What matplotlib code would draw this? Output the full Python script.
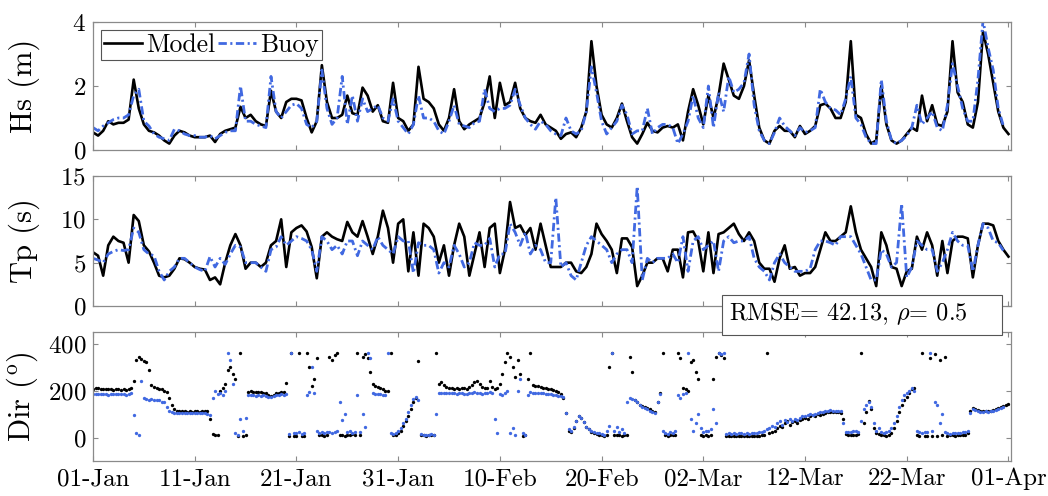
import matplotlib
matplotlib.use('Agg')
import matplotlib.pyplot as plt
import matplotlib.dates as mdates
from matplotlib.patches import Rectangle
import numpy as np

plt.rcParams.update({
    'font.family': 'serif', 'font.serif': ['cmr10'], 'mathtext.fontset': 'cm',
    'axes.unicode_minus': False, 'axes.formatter.use_mathtext': True,
    'font.size': 18, 'lines.scale_dashes': False,
})

nan = np.nan
start = np.datetime64('2023-01-01T00:00')

# ---------------- data (12-hourly) ----------------
hs_model = [
    0.55, 0.45, 0.6, 0.9, 0.8, 0.85, 0.85, 0.95, 2.2, 1.3,
    0.8, 0.6, 0.55, 0.45, 0.3, 0.2, 0.45, 0.6, 0.55, 0.45,
    0.4, 0.4, 0.4, 0.45, 0.25, 0.5, 0.6, 0.65, 0.7, 1.35,
    1.0, 1.1, 0.9, 0.8, 0.75, 1.85, 1.2, 1.0, 1.5, 1.6,
    1.6, 1.55, 1.0, 0.55, 0.9, 2.65, 1.5, 1.0, 1.0, 1.1,
    1.7, 1.15, 1.1, 1.95, 1.7, 1.2, 1.4, 0.9, 0.85, 2.1,
    1.0, 0.9, 0.6, 0.8, 2.6, 1.6, 1.5, 1.3, 0.8, 0.6,
    1.0, 1.9, 0.9, 0.65, 0.8, 0.9, 1.0, 1.5, 2.3, 1.0,
    2.1, 1.4, 1.5, 2.1, 1.3, 1.0, 0.9, 0.85, 1.1, 0.8,
    0.7, 0.6, 0.35, 0.5, 0.55, 0.4, 0.7, 1.2, 3.4, 2.0,
    1.1, 0.8, 0.7, 1.0, 1.45, 0.9, 0.4, 0.2, 0.5, 0.85,
    0.6, 0.55, 0.7, 0.75, 0.7, 0.8, 0.3, 1.2, 1.9, 1.4,
    0.8, 1.7, 1.0, 1.7, 2.7, 2.2, 1.7, 1.6, 2.0, 2.8,
    1.7, 0.7, 0.3, 0.2, 0.6, 0.75, 0.6, 0.6, 0.4, 0.75,
    0.5, 0.6, 0.75, 1.4, 1.45, 1.3, 1.0, 1.0, 1.5, 3.4,
    1.1, 1.0, 0.5, 0.2, 0.3, 2.0, 0.8, 0.3, 0.2, 0.3,
    0.5, 0.7, 0.6, 1.7, 0.9, 1.4, 0.8, 0.75, 1.2, 3.4,
    1.8, 1.5, 0.8, 0.7, 1.5, 3.7, 3.0, 2.1, 1.2, 0.7,
    0.5]
hs_buoy = [
    0.7, 0.6, 0.75, 0.85, 0.95, 1.0, 1.0, 1.1, 1.7, 1.9,
    0.9, 0.75, 0.5, 0.4, 0.35, 0.3, 0.65, 0.6, 0.5, 0.45,
    0.45, 0.4, 0.4, 0.45, 0.35, 0.45, 0.55, 0.6, 0.6, 2.0,
    0.9, 0.9, 0.8, 0.75, 0.7, 2.3, 1.2, 1.0, 1.2, 1.4,
    1.45, 1.3, 0.8, 0.7, 0.9, 2.5, 1.3, 0.8, 1.0, 2.3,
    0.8, 1.7, 0.9, 1.6, 1.2, 1.3, 1.4, 1.0, 0.9, 1.6,
    0.9, 0.7, 0.5, 0.8, 1.7, 1.0, 1.0, 0.9, 0.6, 0.5,
    0.9, 1.4, 0.8, 0.75, 0.7, 0.85, 0.9, 1.9, 1.3, 1.2,
    1.3, 1.3, 1.4, 1.9, 1.4, 1.0, 0.8, 0.65, 0.9, 0.8,
    0.6, 0.5, 0.45, 1.0, 0.6, 0.5, 0.6, 1.2, 2.6, 1.8,
    0.9, 0.5, 0.7, 0.9, 1.4, 1.1, 0.5, 0.6, 0.6, 1.3,
    0.5, 0.7, 0.8, 0.8, 0.7, 0.2, 0.5, 0.9, 1.7, 1.0,
    0.7, 2.0, 0.7, 1.8, 1.2, 2.3, 1.8, 1.9, 2.1, 3.0,
    1.4, 0.6, 0.3, 0.2, 0.55, 1.0, 0.75, 0.6, 0.45, 0.7,
    0.55, 0.6, 0.7, 1.9, 1.5, 1.3, 1.25, 1.1, 1.6, 2.3,
    1.0, 0.8, 0.4, 0.2, 0.2, 2.2, 0.9, 0.3, 0.2, 0.3,
    0.45, 0.7, 1.4, 0.8, 1.0, 1.2, 0.7, 0.6, 1.4, 2.7,
    2.0, 1.3, 0.9, 0.9, 2.2, 4.05, 3.2, 2.5, 1.3, 0.75,
    nan]
tp_model = [
    6.2, 5.8, 3.5, 7.0, 8.0, 7.5, 7.3, 5.0, 10.5, 9.8,
    7.0, 6.3, 5.0, 3.5, 3.3, 3.5, 4.3, 5.5, 5.4, 5.0,
    4.5, 4.3, 4.2, 3.0, 3.3, 2.5, 5.0, 7.0, 8.3, 7.0,
    4.3, 5.0, 5.0, 4.5, 5.0, 7.0, 7.5, 10.0, 4.5, 8.5,
    9.0, 9.3, 8.6, 6.8, 3.2, 8.0, 8.5, 8.0, 7.7, 7.5,
    9.7, 8.5, 8.0, 9.8, 8.0, 6.0, 8.0, 11.0, 9.0, 5.0,
    9.5, 10.0, 4.0, 8.5, 3.5, 9.5, 9.0, 8.0, 5.0, 7.0,
    3.5, 7.0, 9.5, 8.0, 3.5, 6.0, 8.5, 4.5, 9.0, 9.5,
    3.8, 6.5, 12.0, 9.0, 9.3, 8.2, 9.0, 6.5, 9.5, 7.0,
    4.5, 4.5, 4.5, 5.0, 5.0, 4.0, 3.8, 4.5, 6.0, 9.5,
    8.3, 7.5, 6.5, 3.8, 7.8, 7.8, 6.8, 2.3, 3.5, 5.0,
    5.0, 5.5, 5.5, 4.0, 6.5, 6.5, 3.3, 8.5, 8.6, 7.5,
    4.0, 8.5, 3.8, 8.3, 8.5, 9.0, 9.5, 8.3, 7.5, 8.5,
    7.5, 5.0, 4.3, 4.3, 2.8, 5.5, 7.0, 4.3, 4.5, 3.5,
    3.8, 3.8, 4.5, 6.5, 8.5, 7.5, 7.5, 8.0, 8.5, 11.5,
    8.5, 6.5, 5.5, 4.5, 2.3, 8.5, 7.0, 4.5, 4.3, 2.3,
    4.0, 4.3, 8.0, 6.5, 8.5, 7.0, 3.5, 7.5, 3.8, 7.5,
    8.0, 8.0, 7.8, 3.3, 7.0, 9.5, 9.5, 9.3, 7.5, 6.5,
    5.7]
tp_buoy = [
    5.5, 5.3, 5.0, 6.0, 6.3, 6.5, 6.4, 6.5, 9.0, 8.5,
    6.5, 6.0, 5.8, 4.0, 3.0, 4.0, 4.5, 5.5, 5.5, 5.0,
    4.5, 4.2, 4.0, 5.7, 4.5, 5.5, 4.8, 6.0, 7.0, 6.8,
    5.0, 5.0, 5.0, 4.5, 4.0, 6.5, 6.8, 8.0, 7.0, 7.5,
    8.0, 7.8, 7.5, 6.5, 4.0, 8.0, 7.5, 6.5, 7.0, 6.0,
    7.5, 7.5, 5.8, 7.5, 7.0, 6.5, 8.0, 7.0, 6.5, 6.0,
    8.0, 7.5, 7.5, 3.8, 7.3, 7.0, 7.0, 6.5, 3.8, 5.0,
    4.5, 7.0, 6.0, 4.5, 5.0, 7.3, 7.0, 7.0, 7.8, 4.5,
    6.0, 6.0, 9.5, 8.5, 7.0, 8.5, 6.0, 7.0, 6.5, 5.0,
    5.0, 12.5, 4.5, 5.0, 3.5, 3.0, 5.0, 7.0, 8.0, 7.5,
    7.0, 6.5, 5.0, 6.0, 6.5, 6.5, 5.0, 13.8, 3.0, 5.5,
    5.0, 5.5, 5.5, 5.5, 6.0, 5.0, 8.0, 4.0, 7.5, 8.0,
    6.5, 7.0, 7.5, 4.0, 7.5, 8.0, 7.3, 7.5, 7.5, 8.0,
    5.5, 4.5, 4.0, 3.0, 5.0, 6.0, 5.0, 4.5, 4.0, 4.0,
    4.0, 4.3, 6.5, 7.5, 7.5, 7.3, 7.0, 8.0, 8.0, 8.0,
    7.0, 6.0, 4.5, 3.0, 3.0, 6.5, 6.0, 4.5, 5.0, 11.8,
    3.3, 4.5, 7.5, 7.0, 6.5, 6.5, 4.0, 5.0, 6.5, 8.5,
    7.5, 7.0, 7.0, 4.0, 7.0, 9.5, 9.0, 7.5, 7.3, 6.4,
    nan]

# ---------------- data (6-hourly directions, one row per day) ----------------
dir_model = [
    208, 212, 210, 207,  205, 207, 206, 205,  204, 205, 206, 204,  205, 204, 206, 210,
    240, 330, 345, 335,  325, 320, 290, 225,  215, 212, 208, 205,  200, 195, 170, 140,
    122, 115, 113, 112,  112, 111, 112, 110,  112, 113, 111, 112,  115, 112, 80, 15,
    10, 12, 200, 210,    230, 290, 300, 270,  250, 8, 360, 5,     10, 195, 198, 196,
    195, 194, 193, 190,  188, 182, 178, 182,  188, 192, 195, 196,  233, 5, 360, 8,
    5, 360, 6, 8,        360, 300, 220, 250,  340, 10, 12, 8,     10, 345, 330, 350,
    360, 12, 10, 8,      10, 12, 15, 10,      360, 10, 345, 355,  340, 280, 230, 220,
    215, 210, 205, 200,  200, 360, 10, 12,    20, 30, 50, 70,     90, 120, 150, 170,
    325, 10, 10, 8,      10, 9, 10, 360,      230, 235, 225, 215,  210, 212, 208, 210,
    207, 210, 212, 208,  215, 225, 235, 240,  230, 215, 210, 212,  240, 215, 205, 210,
    230, 270, 320, 360,  345, 300, 260, 330,  270, 8, 10, 250,    360, 225, 220, 218,
    215, 212, 210, 208,  205, 202, 198, 195,  185, 170, 106, 30,   25, 40, 70, 90,
    85, 65, 45, 35,      25, 20, 15, 12,      10, 8, 10, 300,     360, 10, 12, 10,
    8, 10, 10, 345,      280, 160, 150, 140,  135, 130, 125, 120,  115, 108, 150, 190,
    360, 10, 8, 10,      12, 10, 360, 340,    210, 205, 200, 320,  330, 280, 250, 10,
    8, 10, 8, 10,        250, 345, 360, 350,  340, 5, 6, 5,       5, 6, 5, 6,
    5, 6, 8, 6,          5, 6, 8, 10,         12, 360, 20, 25,     30, 40, 50, 45,
    60, 70, 55, 65,      70, 60, 75, 80,      85, 80, 90, 95,      90, 100, 95, 100,
    105, 108, 108, 110,  110, 108, 105, 80,   15, 12, 10, 12,      10, 15, 360, 60,
    110, 155, 120, 40,   20, 15, 10, 10,      8, 10, 20, 40,       70, 110, 140, 160,
    175, 190, 205, 212,  10, 8, 360, 6,       5, 340, 8, 355,      6, 330, 10, 345,
    8, 10, 10, 8,        10, 10, 12, 12,      20, 115, 125, 120,   118, 115, 112, 115,
    112, 115, 118, 120,  125, 130, 135, 140,
    145]
dir_buoy = [
    185, 186, 184, 185,  184, 185, 183, 185,  184, 186, 185, 184,  185, 183, 186, 190,
    95, 20, 12, 240,     170, 165, 160, 165,  158, 162, 160, 150,  150, 130, 115, 110,
    106, 105, 104, 106,  105, 104, 106, 105,  104, 105, 103, 104,  105, 100, 95, 170,
    200, 185, 190, 180,  200, 360, 330, 230,  20, 10, 80, 30,      85, 180, 182, 180,
    178, 180, 179, 181,  178, 175, 172, 176,  180, 182, 184, 183,  185, 15, 360, 20,
    18, 25, 15, 20,      180, 195, 300, 190,  30, 20, 25, 18,      22, 25, 20, 25,
    30, 150, 75, 100,    25, 30, 20, 25,      180, 25, 100, 45,    360, 340, 190, 185,
    185, 184, 182, 183,  360, 20, 15, 20,     30, 40, 60, 80,      110, 140, 165, 175,
    160, 15, 12, 10,     12, 15, 12, 100,     190, 192, 188, 190,  192, 190, 188, 186,
    190, 188, 185, 187,  190, 192, 195, 190,  188, 186, 190, 192,  195, 190, 80, 20,
    185, 180, 190, 200,  20, 40, 10, 200,     250, 20, 10, 180,    195, 192, 190, 188,
    190, 188, 186, 185,  184, 182, 180, 178,  176, 172, 105, 35,   30, 45, 70, 90,
    85, 65, 45, 38,      30, 25, 20, 18,      15, 12, 30, 50,      360, 30, 45, 25,
    35, 20, 150, 170,    165, 160, 150, 140,  130, 125, 120, 115,  110, 104, 150, 185,
    30, 20, 15, 25,      20, 30, 180, 170,    185, 190, 360, 80,   30, 60, 100, 40,
    25, 30, 28, 35,      120, 60, 360, 355,   360, 15, 18, 15,     18, 15, 20, 18,
    15, 18, 16, 20,      18, 20, 22, 25,      30, 35, 40, 50,      45, 60, 70, 55,
    75, 65, 80, 70,      80, 75, 85, 90,      90, 95, 100, 98,     100, 105, 108, 110,
    112, 115, 116, 115,  114, 115, 112, 60,   25, 22, 25, 30,      30, 25, 70, 120,
    140, 150, 130, 60,   30, 40, 25, 20,      25, 30, 40, 60,      90, 130, 160, 180,
    190, 200, 210, 200,  30, 25, 20, 22,      25, 360, 30, 150,    140, 60, 100, 25,
    20, 15, 18, 20,      18, 20, 22, 25,      30, 105, 120, 118,   115, 110, 108, 112,
    110, 112, 115, 118,  120, 125, 130, nan,
    nan]

tick_labels_days = [0, 10, 20, 30, 40, 50, 60, 70, 80, 90]
stats_text = r'RMSE= 42.13, $\rho$= 0.5'

# ---------------- plotting ----------------
def times(arr, hours):
    return start + np.arange(len(arr)) * np.timedelta64(hours, 'h')

t12m, t12b = times(hs_model, 12), times(hs_buoy, 12)
t6m, t6b = times(dir_model, 6), times(dir_buoy, 6)

blue = '#4169E1'
edge = '#8a8a8a'
dash = (0, (6, 2.5, 1.5, 2.5))

fig = plt.figure(figsize=(10.48, 4.96), dpi=100)
W = 1048.0; H = 496.0
def pos(top, bottom, left=93.0, right=1011.0):
    return [left / W, 1 - bottom / H, (right - left) / W, (bottom - top) / H]

ax1 = fig.add_axes(pos(22, 150))
ax2 = fig.add_axes(pos(176, 306))
ax3 = fig.add_axes(pos(332, 461))

l1, = ax1.plot(t12m, hs_model, color='black', lw=1.9, label='Model')
l2, = ax1.plot(t12b, hs_buoy, color=blue, lw=2.0, linestyle=dash, label='Buoy')
ax1.set_ylim(0, 4)
ax1.set_yticks([0, 2, 4])
ax1.set_ylabel('Hs (m)', fontsize=22)

ax2.plot(times(tp_model, 12), tp_model, color='black', lw=1.9)
ax2.plot(times(tp_buoy, 12), tp_buoy, color=blue, lw=2.0, linestyle=dash)
ax2.set_ylim(0, 15)
ax2.set_yticks([0, 5, 10, 15])
ax2.set_ylabel('Tp (s)', fontsize=22)

ax3.plot(t6m, dir_model, linestyle='none', marker='o', ms=2.4, mew=0, color='black')
ax3.plot(t6b, dir_buoy, linestyle='none', marker='o', ms=2.4, mew=0, color=blue)
ax3.set_ylim(-100, 450)
ax3.set_yticks([0, 200, 400])
ax3.set_ylabel(r'Dir ($^{\mathrm{o}}$)', fontsize=22)

xt = [start + np.timedelta64(d, 'D') for d in tick_labels_days]
for ax in (ax1, ax2, ax3):
    ax.set_xlim(start, start + np.timedelta64(int(90.25 * 24), 'h'))
    ax.set_xticks(xt)
    ax.xaxis.set_major_formatter(mdates.DateFormatter('%d-%b'))
    ax.tick_params(direction='in', top=True, right=True, length=3.5, width=0.8,
                   color=edge, labelsize=18, pad=5)
    for s in ax.spines.values():
        s.set_color(edge)
        s.set_linewidth(0.9)
    ax.yaxis.set_label_coords(-0.058, 0.5)
for ax in (ax1, ax2):
    ax.tick_params(labelbottom=False)

leg = ax1.legend(handles=[l1, l2], loc='upper left', ncol=2, handlelength=1.5,
                 handletextpad=0.15, columnspacing=0.1, borderpad=0.12,
                 borderaxespad=0.3, fancybox=False, edgecolor='#555555',
                 framealpha=1, fontsize=18.5)
leg.get_frame().set_linewidth(0.8)

fig.add_artist(Rectangle((722 / W, 1 - 335 / H), 280 / W, 40 / H, transform=fig.transFigure,
                         facecolor='white', edgecolor='#555555', lw=0.8, zorder=9))
fig.text(729 / W, 1 - 314 / H, stats_text, ha='left', va='center', fontsize=17.5, zorder=10)

fig.savefig('out.png', dpi=100)
